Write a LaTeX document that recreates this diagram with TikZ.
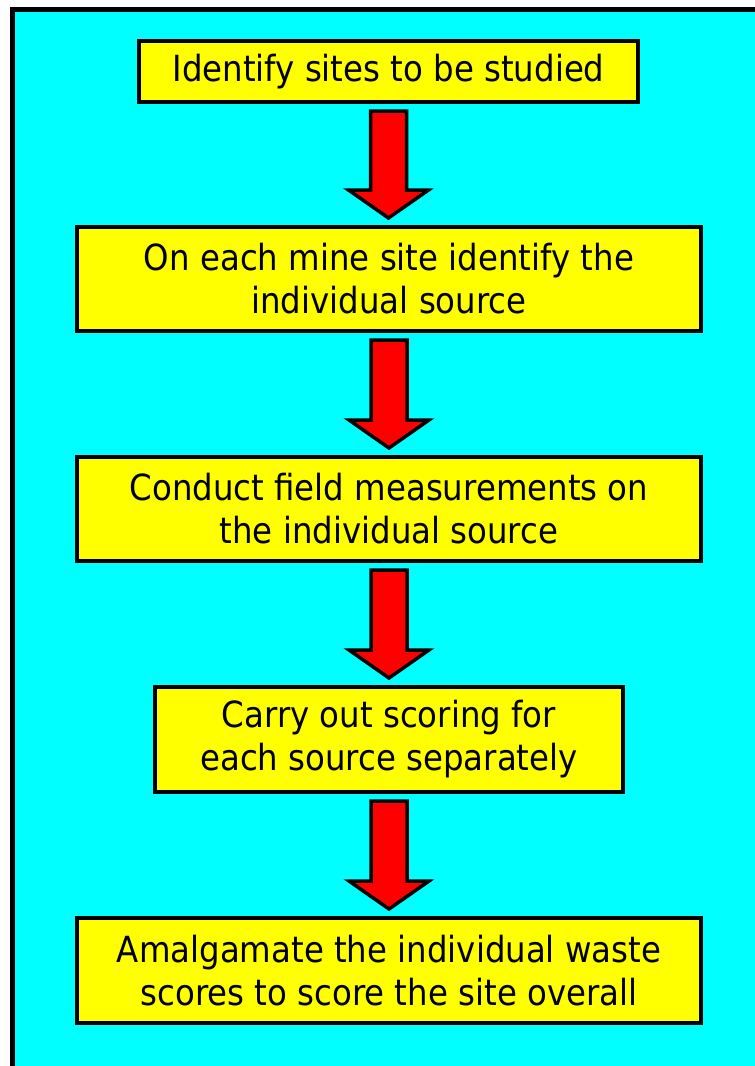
\documentclass[tikz,border=0pt]{standalone}
\usepackage{fontspec}
\setmainfont{DejaVu Sans}[FakeStretch=0.9]
\usetikzlibrary{calc}
\definecolor{bgcyan}{RGB}{0,255,255}
\definecolor{boxyellow}{RGB}{255,255,0}
\definecolor{arrowred}{RGB}{255,0,0}
\begin{document}
\begin{tikzpicture}[x=1pt,y=-1pt,
  box/.style={draw=black, line width=4pt, fill=boxyellow, align=center,
    inner sep=0pt, font=\fontsize{36}{43}\selectfont},
  blockarrow/.style={draw=black, line width=3.5pt, fill=arrowred, line join=miter, miter limit=10}]
\useasboundingbox (0,0) rectangle (755,1066);
\clip (0,0) rectangle (755,1066);
\fill[white] (0,0) rectangle (755,1066);
\draw[line width=5pt, fill=bgcyan] (12.5,9.5) rectangle (770,1080);

\node[box, minimum width=499pt, minimum height=61pt] (b1) at (388.5,71.5) {Identify sites to be studied};
\node[box, minimum width=624pt, minimum height=104pt] (b2) at (389,279) {On each mine site identify the\\individual source};
\node[box, minimum width=624pt, minimum height=104pt] (b3) at (389,509) {Conduct field measurements on\\the individual source};
\node[box, minimum width=468pt, minimum height=105pt] (b4) at (389,739.5) {Carry out scoring for\\each source separately};
\node[box, minimum width=624pt, minimum height=105pt] (b5) at (389,970.5) {Amalgamate the individual waste\\scores to score the site overall};

\foreach \a/\b in {b1/b2, b2/b3, b3/b4, b4/b5}{
  \draw[blockarrow] let \p1=(\a.south), \p2=(\b.north) in
    (\x1-18pt,\y1-7pt) -- (\x1+18pt,\y1-7pt) -- (\x1+18pt,\y2+35pt)
    -- (\x1+40pt,\y2+35pt) -- (\x1,\y2+7pt) -- (\x1-40pt,\y2+35pt)
    -- (\x1-18pt,\y2+35pt) -- cycle;
}
\end{tikzpicture}
\end{document}
